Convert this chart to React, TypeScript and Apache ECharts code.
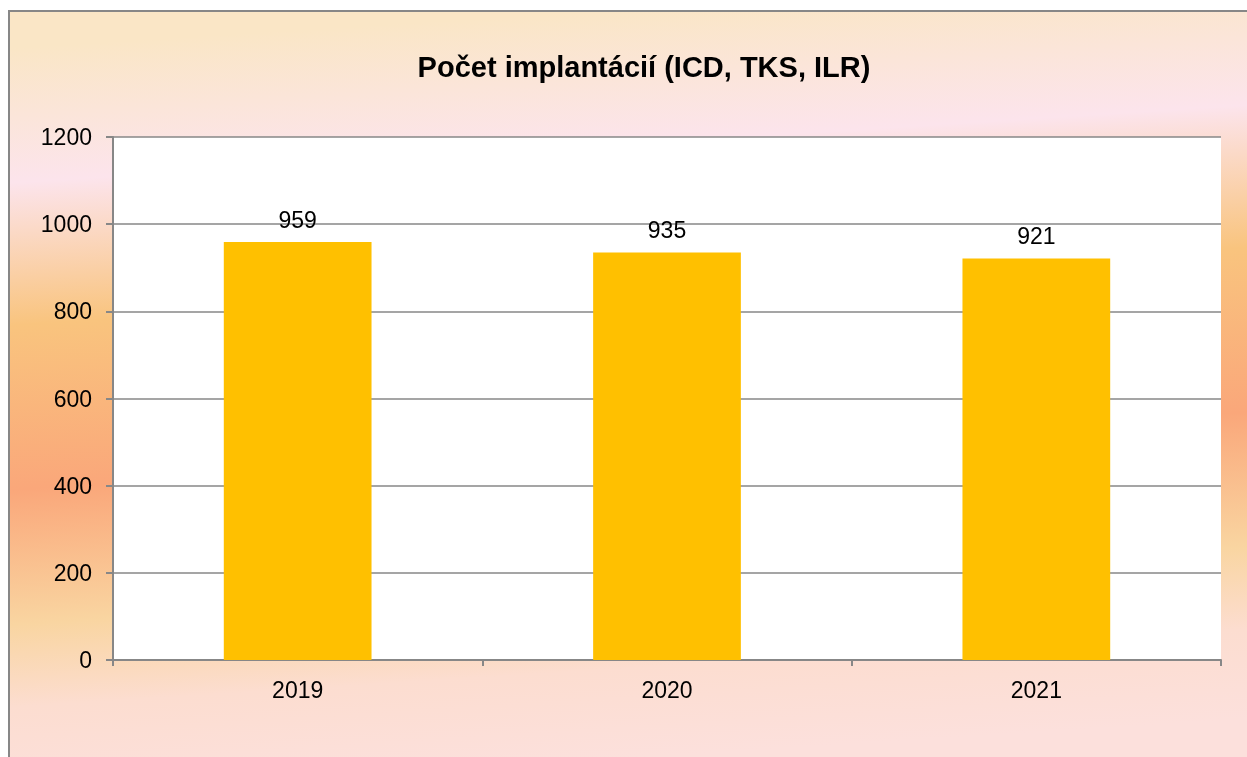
import React, { useEffect, useRef } from "react";
import * as echarts from "echarts";

const categories = ["2019", "2020", "2021"];
const values = [959, 935, 921];
const yTicks = [0, 200, 400, 600, 800, 1000, 1200];
const titleText = "Počet implantácií (ICD, TKS, ILR)";

export default function App() {
  const ref = useRef<HTMLDivElement>(null);
  useEffect(() => {
    if (!ref.current) return;
    const chart = echarts.init(ref.current, undefined, { renderer: "svg" });
    const font = "'Liberation Sans', Arial, sans-serif";
    chart.setOption({
      animation: false,
      graphic: [
        {
          type: "rect",
          z: -10,
          silent: true,
          shape: { x: 9, y: 11, width: 1260, height: 770 },
          style: {
            fill: {
              type: "linear",
              x: 600,
              y: 11,
              x2: 647,
              y2: 757,
              global: true,
              colorStops: [
                { offset: 0, color: "#FAE6C6" },
                { offset: 0.18, color: "#FCE4EC" },
                { offset: 0.37, color: "#F9C47E" },
                { offset: 0.59, color: "#FAA77A" },
                { offset: 0.77, color: "#F9D5A1" },
                { offset: 0.88, color: "#FCDDD0" },
                { offset: 1, color: "#FCE0DC" },
              ],
            },
            stroke: "#878787",
            lineWidth: 2,
          },
        },
        {
          type: "text",
          z: 10,
          x: 644,
          y: 67,
          style: {
            text: titleText,
            font: `bold 29px ${font}`,
            fill: "#000",
            textAlign: "center",
            textVerticalAlign: "middle",
          },
        },
      ],
      grid: {
        left: 113,
        top: 137,
        width: 1108,
        height: 523,
        show: true,
        backgroundColor: "#ffffff",
        borderWidth: 0,
      },
      xAxis: {
        type: "category",
        data: categories,
        axisLine: { lineStyle: { color: "#878787", width: 2 } },
        axisTick: { show: true, length: 6, lineStyle: { color: "#878787", width: 2 } },
        axisLabel: { color: "#000", fontSize: 23, fontFamily: font, margin: 18 },
      },
      yAxis: {
        type: "value",
        min: yTicks[0],
        max: yTicks[yTicks.length - 1],
        interval: 200,
        axisLine: { show: true, lineStyle: { color: "#878787", width: 2 } },
        axisTick: { show: true, length: 7, lineStyle: { color: "#878787", width: 2 } },
        splitLine: { show: true, lineStyle: { color: "#878787", width: 1.5 } },
        axisLabel: {
          color: "#000",
          fontSize: 23,
          fontFamily: font,
          margin: 21,
          formatter: (v: number) => String(v),
        },
      },
      series: [
        {
          type: "bar",
          data: values,
          barWidth: "40%",
          itemStyle: { color: "#FFC000" },
          label: {
            show: true,
            position: "top",
            distance: 11,
            color: "#000",
            fontSize: 23,
            fontFamily: font,
          },
        },
      ],
    });
    return () => chart.dispose();
  }, []);
  return (
    <div
      ref={ref}
      style={{ position: "fixed", left: 0, top: 0, width: 1247, height: 757 }}
    />
  );
}
